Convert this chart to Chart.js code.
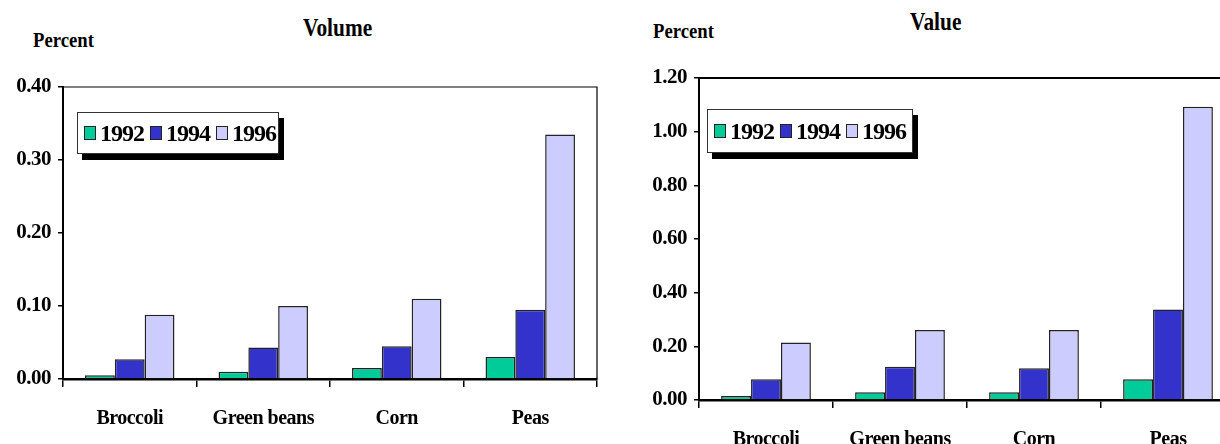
<!DOCTYPE html>
<html>
<head>
<meta charset="utf-8">
<script src="https://cdn.jsdelivr.net/npm/chart.js@4.4.1/dist/chart.umd.min.js"></script>
<style>
    html, body { margin: 0; padding: 0; background: #fff; overflow: hidden; width: 1220px; height: 444px; }
    body { position: relative; font-family: 'Liberation Serif', 'Times New Roman', serif; font-weight: bold; color: #000; }
    .txt { position: absolute; white-space: nowrap; line-height: 1; transform-origin: 0 0; }
    .painel { position: absolute; top: 0; }
    .legenda { position: absolute; background: #fff; border: 1px solid #333; box-shadow: 5px 6px 0 #000;
               display: flex; align-items: center; padding-left: 6px; box-sizing: border-box; }
    .legenda .caixa { width: 10px; height: 12px; border: 1px solid #222; margin-right: 4px; flex: none; }
    .legenda .rotulo { font-size: 24px; letter-spacing: -1px; margin-right: 6px; line-height: 1; }
</style>
</head>
<body>
<div class="txt" style="left:33px; top:29px; font-size:22px; transform:scaleX(0.85);">Percent</div>
<div class="txt" style="left:303px; top:15px; font-size:26px; transform:scaleX(0.82);">Volume</div>
<div class="txt" style="left:653px; top:20px; font-size:22px; transform:scaleX(0.85);">Percent</div>
<div class="txt" style="left:910px; top:9px; font-size:26px; transform:scaleX(0.82);">Value</div>

<div class="painel" style="left:0px;"><canvas id="chartVolume" width="610" height="444"></canvas></div>
<div class="painel" style="left:640px;"><canvas id="chartValor" width="610" height="470"></canvas></div>

<div class="legenda" id="legVolume" style="left:77px; top:112px; width:202px; height:42px;"></div>
<div class="legenda" id="legValor" style="left:707px; top:109px; width:206px; height:44px;"></div>

<script>
// Dados
const categorias = ['Broccoli', 'Green beans', 'Corn', 'Peas'];
const anos = ['1992', '1994', '1996'];
const cores = ['#00cc99', '#3333cc', '#ccccff'];

const volume1992 = [0.005, 0.010, 0.015, 0.030];
const volume1994 = [0.027, 0.043, 0.045, 0.095];
const volume1996 = [0.088, 0.100, 0.110, 0.335];

const valor1992 = [0.015, 0.029, 0.029, 0.077];
const valor1994 = [0.077, 0.124, 0.118, 0.337];
const valor1996 = [0.214, 0.261, 0.261, 1.093];

const eixoVolume = { min: 0, max: 0.4, passo: 0.1 };
const eixoValor = { min: 0, max: 1.2, passo: 0.2 };

const FONTE = '"Liberation Serif", "Times New Roman", serif';
Chart.defaults.font.family = FONTE;
Chart.defaults.font.weight = 'bold';
Chart.defaults.color = '#000';

// moldura superior e direita da área do gráfico + texto mais apertado
const moldura = {
    id: 'moldura',
    beforeDraw(chart) {
        chart.ctx.letterSpacing = '-0.5px';
    },
    beforeDatasetsDraw(chart) {
        const { ctx, chartArea: a } = chart;
        ctx.save();
        ctx.strokeStyle = '#000';
        ctx.lineWidth = chart.options.plugins.moldura.largura;
        ctx.beginPath();
        ctx.moveTo(a.left, a.top);
        ctx.lineTo(a.right, a.top);
        ctx.lineTo(a.right, a.bottom);
        ctx.stroke();
        ctx.restore();
    }
};

function montarLegenda(id) {
    const div = document.getElementById(id);
    anos.forEach((ano, i) => {
        div.innerHTML += `<span class="caixa" style="background:${cores[i]}"></span><span class="rotulo">${ano}</span>`;
    });
}

function criarGrafico(id, series, eixo, cfg) {
    const ctx = document.getElementById(id).getContext('2d');
    return new Chart(ctx, {
        type: 'bar',
        data: {
            labels: categorias,
            datasets: series.map((s, i) => ({
                label: anos[i],
                data: s,
                backgroundColor: cores[i],
                borderColor: '#222',
                borderWidth: 1.5,
                categoryPercentage: 0.67,
                barPercentage: 1.0
            }))
        },
        options: {
            responsive: false,
            animation: false,
            layout: { padding: { top: cfg.topo, right: cfg.direita, left: 0, bottom: 0 } },
            plugins: {
                legend: { display: false },
                tooltip: { enabled: false },
                moldura: { largura: cfg.molduraLargura }
            },
            scales: {
                x: {
                    grid: { display: true, drawOnChartArea: false, drawTicks: true, tickLength: 8, color: '#000', lineWidth: 1.5, offset: true },
                    border: { display: true, color: '#000', width: 2.5 },
                    ticks: { font: { family: FONTE, size: 20, weight: 'bold' }, padding: 20, maxRotation: 0, autoSkip: false },
                    afterFit: (s) => { s.height = cfg.alturaX; }
                },
                y: {
                    min: eixo.min,
                    max: eixo.max,
                    grid: { display: true, drawOnChartArea: false, drawTicks: true, tickLength: 5, color: '#000', lineWidth: 1.5 },
                    border: { display: true, color: '#000', width: 2 },
                    ticks: { stepSize: eixo.passo, font: { family: FONTE, size: 21, weight: 'bold' }, padding: 7,
                             callback: (v) => Number(v).toFixed(2) },
                    afterFit: (s) => { s.width = cfg.larguraY; }
                }
            }
        },
        plugins: [moldura]
    });
}

criarGrafico('chartVolume', [volume1992, volume1994, volume1996], eixoVolume,
    { topo: 87, direita: 13, alturaX: 65, larguraY: 63, molduraLargura: 1.2 });
criarGrafico('chartValor', [valor1992, valor1994, valor1996], eixoValor,
    { topo: 78, direita: 15, alturaX: 70, larguraY: 59, molduraLargura: 2 });

montarLegenda('legVolume');
montarLegenda('legValor');
</script>
</body>
</html>
